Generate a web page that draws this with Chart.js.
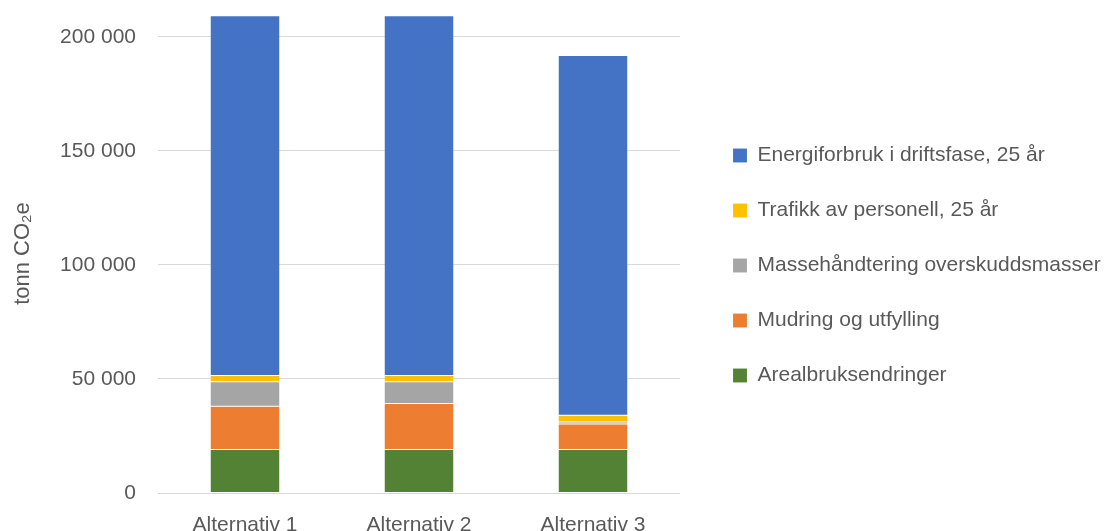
<!DOCTYPE html>
<html>
<head>
<meta charset="utf-8">
<script src="https://cdn.jsdelivr.net/npm/chart.js@4"></script>
<style>
  body { margin: 0; background: #ffffff; }
  #wrap { width: 1112px; height: 531px; position: relative; }
</style>
</head>
<body>
<div id="wrap"><canvas id="co2Chart"></canvas></div>
<script>
// values (tonn CO2e)
const categories = ['Alternativ 1', 'Alternativ 2', 'Alternativ 3'];
const arealbruk = [19050, 19050, 19050];
const mudring = [19000, 20190, 11230];
const massehandtering = [10670, 9480, 880];
const trafikk = [2810, 2810, 2940];
const energi = [157700, 157700, 157700];
const yTicks = [0, 50000, 100000, 150000, 200000];

const textColor = '#595959';
const fontFamily = '"Liberation Sans", Arial, sans-serif';

function spaced(v) {
  return String(v).replace(/\B(?=(\d{3})+(?!\d))/g, ' ');
}

function ds(label, data, color) {
  return {
    label: label,
    data: data,
    backgroundColor: color,
    borderColor: 'rgba(255,255,255,0.25)',
    borderWidth: 0.5,
    borderSkipped: false,
    categoryPercentage: 1.0,
    barPercentage: 0.4
  };
}

// fixed legend width so the plot area ends where it does in the picture
const legendWidth = {
  id: 'legendWidth',
  beforeLayout(chart) {
    const lg = chart.legend;
    if (lg && !lg._fixed) {
      const orig = lg.fit;
      lg.fit = function () { orig.call(this); this.width = 413; };
      lg._fixed = true;
    }
  }
};

const ctx = document.getElementById('co2Chart');
const co2Chart = new Chart(ctx, {
  type: 'bar',
  data: {
    labels: categories,
    datasets: [
      ds('Arealbruksendringer', arealbruk, '#548235'),
      ds('Mudring og utfylling', mudring, '#ED7D31'),
      ds('Massehåndtering overskuddsmasser', massehandtering, '#A5A5A5'),
      ds('Trafikk av personell, 25 år', trafikk, '#FFC000'),
      ds('Energiforbruk i driftsfase, 25 år', energi, '#4472C4')
    ]
  },
  plugins: [legendWidth],
  options: {
    responsive: true,
    maintainAspectRatio: false,
    animation: false,
    layout: { padding: 0 },
    plugins: {
      tooltip: { enabled: false },
      legend: {
        position: 'right',
        reverse: true,
        labels: {
          boxWidth: 14,
          boxHeight: 14,
          padding: 34,
          color: textColor,
          font: { family: fontFamily, size: 21 }
        }
      }
    },
    scales: {
      x: {
        stacked: true,
        grid: { display: false },
        border: { display: false },
        ticks: {
          color: textColor,
          padding: 12,
          maxRotation: 0,
          font: { family: fontFamily, size: 21 }
        },
        afterFit: (s) => { s.height = 38; s.paddingLeft = 0; s.paddingRight = 0; }
      },
      y: {
        stacked: true,
        min: 0,
        max: 210000,
        border: { display: false },
        grid: { color: '#d9d9d9', lineWidth: 1, drawTicks: false },
        afterBuildTicks: (s) => { s.ticks = yTicks.map(v => ({ value: v })); },
        ticks: {
          color: textColor,
          padding: 22,
          font: { family: fontFamily, size: 21 },
          callback: (v) => spaced(v)
        },
        title: {
          display: true,
          text: 'tonn CO₂e',
          color: textColor,
          padding: { top: 10, bottom: 0 },
          font: { family: fontFamily, size: 22 }
        },
        afterFit: (s) => { s.width = 158; s.paddingTop = 14; s.paddingBottom = 0; }
      },
      gap: {
        type: 'linear',
        position: 'right',
        display: true,
        grid: { display: false },
        border: { display: false },
        ticks: { display: false },
        afterFit: (s) => { s.width = 19; s.paddingTop = 0; s.paddingBottom = 0; }
      }
    }
  }
});
</script>
</body>
</html>
